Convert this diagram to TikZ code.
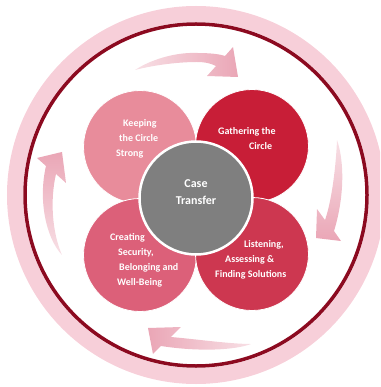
\documentclass[tikz,border=0pt]{standalone}
\usepackage{fontspec}
\usetikzlibrary{fadings}
\setmainfont{Carlito}
\definecolor{bandpink}{HTML}{F7CFD9}
\definecolor{darkring}{HTML}{8C0A20}
\definecolor{keepc}{HTML}{E88C9B}
\definecolor{gathc}{HTML}{C81E37}
\definecolor{creac}{HTML}{DC6079}
\definecolor{listc}{HTML}{CD3750}
\definecolor{grayc}{HTML}{7F7F7F}
\definecolor{arrmid}{HTML}{EAA6B6}
\tikzfading[name=tailfade, left color=transparent!65, right color=transparent!0]
\tikzset{
  petal/.style={circle, minimum size=113pt, inner sep=0pt, draw=white, line width=0.8pt},
  hub/.style={circle, minimum size=113pt, inner sep=0pt, draw=white, line width=2.5pt, fill=grayc},
  lbl/.style={text=white, inner sep=0pt, align=left, font=\bfseries\fontsize{10}{15}\selectfont},
  hublbl/.style={text=white, inner sep=0pt, align=center, font=\bfseries\fontsize{12}{17}\selectfont},
  arr/.style={draw=none, fill=arrmid, path fading=tailfade}
}
\begin{document}
\begin{tikzpicture}[x=1pt,y=-1pt]
\useasboundingbox (0,0) rectangle (380,387);
\clip (0,0) rectangle (380,387);
% outer rings
\coordinate (ctr) at (196,195);
\draw[bandpink, line width=16pt] (ctr) circle[radius=181];
\draw[darkring, line width=3.5pt] (ctr) circle[radius=171];
% curved arrows
\path[arr, fading angle=0]
  (135,70) .. controls (150,60) and (175,52) .. (197,53)
  .. controls (210,53) and (219,54) .. (225,56) -- (233,47) -- (238,77) -- (207,76) -- (216,66)
  .. controls (210,63) and (204,62) .. (197,62)
  .. controls (175,62) and (150,66) .. (135,70) -- cycle;
\path[arr, fading angle=-90]
  (337,140) .. controls (344,160) and (345,195) .. (334,231) -- (341,241) -- (316,238) -- (317,209) -- (325,220)
  .. controls (332,200) and (336,165) .. (337,140) -- cycle;
\path[arr, fading angle=180]
  (251,344) .. controls (235,350) and (200,352) .. (161,346) -- (153,354) -- (148,328) -- (181,327) -- (171,337)
  .. controls (195,339) and (230,344) .. (251,344) -- cycle;
\path[arr, fading angle=90]
  (62,255) .. controls (46,238) and (38,200) .. (46,166) -- (37,158) -- (62,152) -- (66,183) -- (56,174)
  .. controls (50,200) and (52,232) .. (62,255) -- cycle;
% petals
\node[petal, fill=keepc] (keep) at (140,147) {};
\node[petal, fill=gathc] (gath) at (252,146) {};
\node[petal, fill=creac] (crea) at (140,255) {};
\node[petal, fill=listc] (list) at (252,254) {};
\node[hub] (hub) at (196,198) {};
% labels
\node[lbl, anchor=west] (keeplbl) at (116,139) {\hspace*{7pt}Keeping\\\hspace*{3pt}the Circle\\Strong};
\node[lbl, anchor=west] (gathlbl) at (218,138.5) {Gathering the\\\hspace*{31pt}Circle};
\node[lbl, anchor=west] (crealbl) at (110,260.5) {Creating\\\hspace*{8pt}Security,\\\hspace*{9pt}Belonging and\\\hspace*{7pt}Well-Being};
\node[lbl, anchor=west] (listlbl) at (215,260) {\hspace*{29pt}Listening,\\\hspace*{10pt}Assessing \&\\Finding Solutions};
\node[hublbl] (hublbl) at (196,192) {Case\\Transfer};
\end{tikzpicture}
\end{document}
